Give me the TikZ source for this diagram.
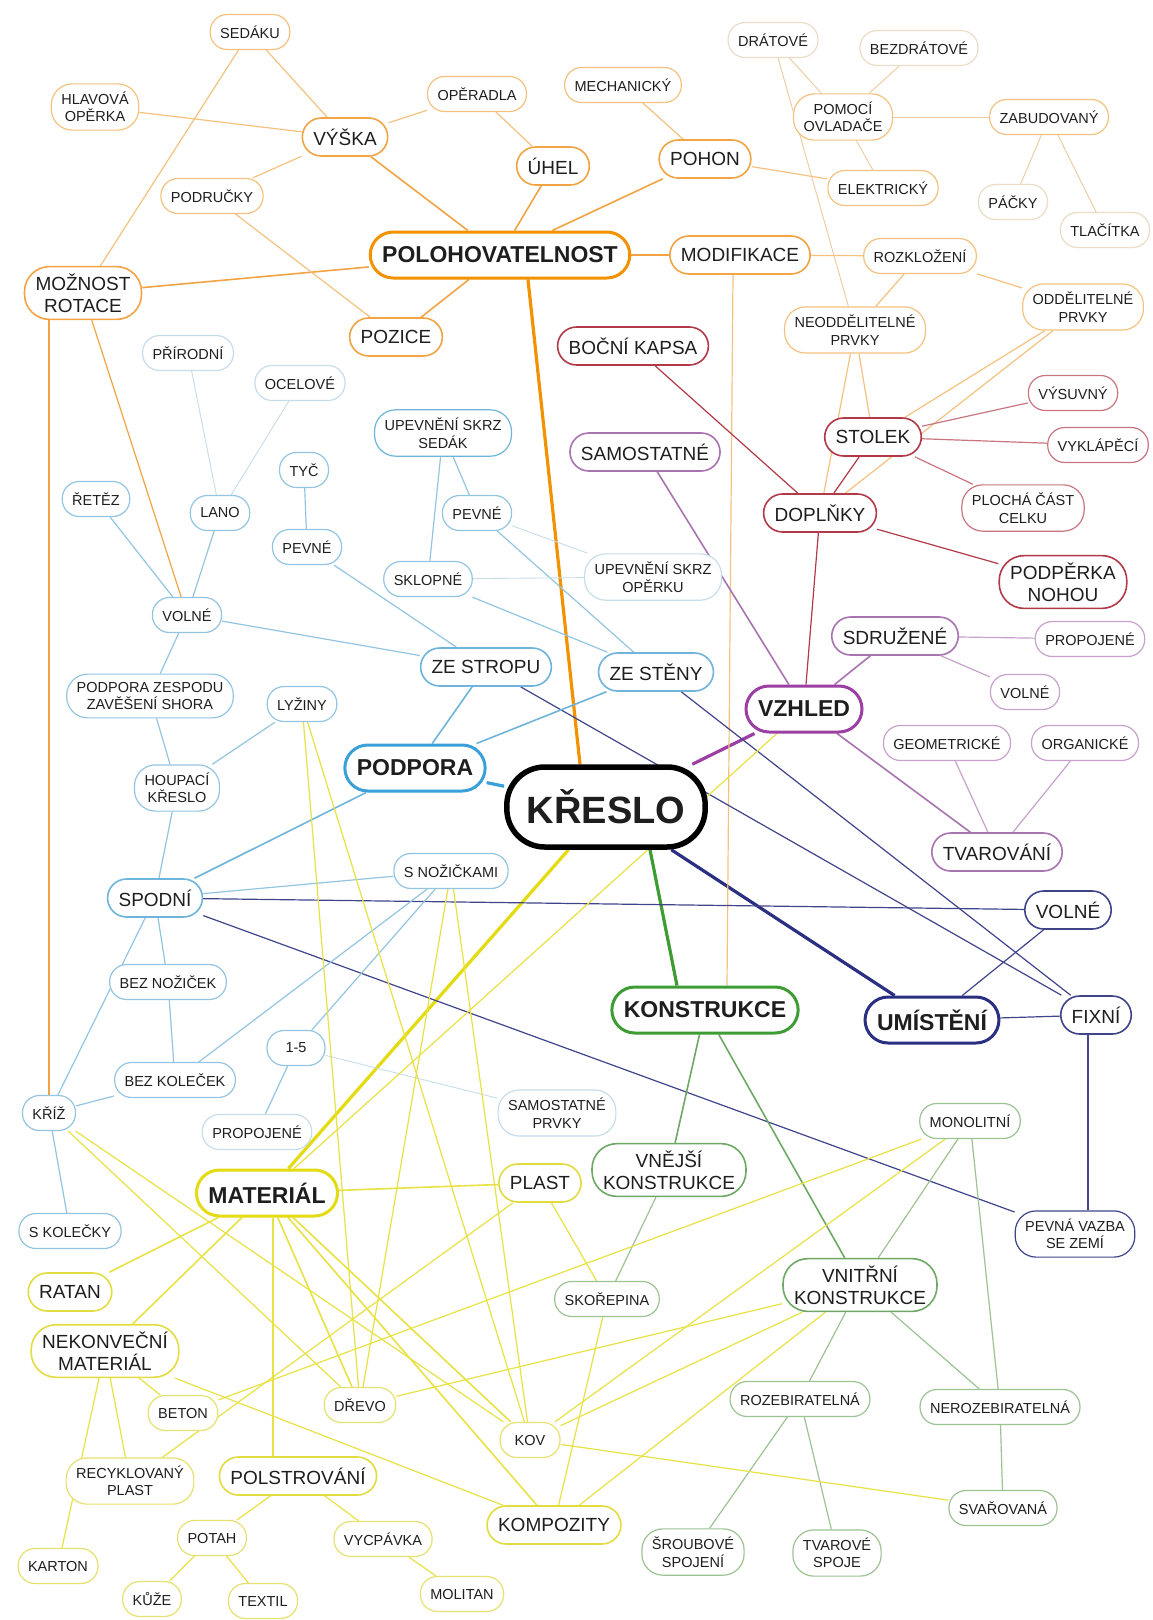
\documentclass[tikz,border=0pt]{standalone}
\usepackage{fontspec}
\setmainfont{Liberation Sans}
\usetikzlibrary{calc}
\pgfdeclarelayer{background}
\pgfsetlayers{background,main}
\definecolor{corange}{HTML}{F39200}
\definecolor{orangeM}{HTML}{F2A444}
\definecolor{orangeL}{HTML}{F4C27E}
\definecolor{orangeXL}{HTML}{EBDCC6}
\definecolor{cred}{HTML}{B23A48}
\definecolor{redL}{HTML}{C97580}
\definecolor{cpurple}{HTML}{9C3FA3}
\definecolor{purpleM}{HTML}{A873B0}
\definecolor{purpleL}{HTML}{C7A2CC}
\definecolor{cnavy}{HTML}{2B2F82}
\definecolor{navyM}{HTML}{40448A}
\definecolor{cblue}{HTML}{3AA0DA}
\definecolor{blueM}{HTML}{6FB4DA}
\definecolor{blueL}{HTML}{93C5E2}
\definecolor{blueXL}{HTML}{C8DDEA}
\definecolor{cgreen}{HTML}{3E9C34}
\definecolor{greenM}{HTML}{6EA864}
\definecolor{greenL}{HTML}{9CC392}
\definecolor{cyellow}{HTML}{E5DB12}
\definecolor{yellowM}{HTML}{E3DC40}
\definecolor{yellowL}{HTML}{E6E170}
\definecolor{yellowE}{HTML}{E8E244}
\definecolor{txt}{HTML}{1E1E1E}
\begin{document}
\begin{tikzpicture}[x=1pt,y=-1pt,
  base/.style={draw, rectangle, fill=white, align=center, text=txt},
  sm/.style={base, font=\fontsize{14.5}{17.5}\selectfont, minimum height=35pt, inner xsep=10pt, inner ysep=5pt, rounded corners=17pt, line width=1.2pt},
  sm2/.style={sm, inner ysep=8pt, rounded corners=21pt},
  md/.style={base, font=\fontsize{19}{22}\selectfont, minimum height=38pt, inner xsep=11pt, inner ysep=6pt, rounded corners=19pt, line width=1.6pt},
  md2/.style={md, inner ysep=7pt, rounded corners=25pt},
  mn/.style={base, font=\bfseries\fontsize{23}{27}\selectfont, minimum height=46pt, inner xsep=12pt, rounded corners=23pt, line width=3pt},
  thk/.style={line width=3.2pt},
  e2/.style={line width=1.6pt},
  e3/.style={line width=1.2pt},
  e4/.style={line width=0.9pt}]
\useasboundingbox (0,0) rectangle (1152,1620);

% centre
\node[base, draw=black, line width=5.5pt, rounded corners=38pt, minimum height=80pt, inner xsep=20pt, font=\bfseries\fontsize{38}{40}\selectfont] (kreslo) at (606,807) {KŘESLO};

% orange
\node[mn, draw=corange] (pol) at (500,255) {POLOHOVATELNOST};
\node[md, draw=orangeM] (vyska) at (345,137) {VÝŠKA};
\node[sm, draw=orangeL] (sedaku) at (250,32) {SEDÁKU};
\node[sm2, draw=orangeL] (hlav) at (95,107) {HLAVOVÁ\\OPĚRKA};
\node[sm, draw=orangeL] (operadla) at (477,94) {OPĚRADLA};
\node[sm, draw=orangeL] (podrucky) at (212,196) {PODRUČKY};
\node[md, draw=orangeM] (uhel) at (553,166) {ÚHEL};
\node[md, draw=orangeM] (pozice) at (396,337) {POZICE};
\node[md2, draw=orangeM] (rotace) at (83,293) {MOŽNOST\\ROTACE};
\node[sm, draw=orangeL] (mech) at (623,85) {MECHANICKÝ};
\node[md, draw=orangeM] (pohon) at (705,159) {POHON};
\node[md, draw=orangeM] (modif) at (740,255) {MODIFIKACE};
\node[sm, draw=orangeXL] (dratove) at (773,40) {DRÁTOVÉ};
\node[sm, draw=orangeXL] (bezdrat) at (919,48) {BEZDRÁTOVÉ};
\node[sm2, draw=orangeL] (pomoci) at (843,117) {POMOCÍ\\OVLADAČE};
\node[sm, draw=orangeL] (zabud) at (1049,117) {ZABUDOVANÝ};
\node[sm, draw=orangeL] (elektr) at (883,188) {ELEKTRICKÝ};
\node[sm, draw=orangeXL] (packy) at (1013,202) {PÁČKY};
\node[sm, draw=orangeXL] (tlac) at (1105,230) {TLAČÍTKA};
\node[sm, draw=orangeL] (rozkl) at (920,256) {ROZKLOŽENÍ};
\node[sm2, draw=orangeL] (oddel) at (1083,307) {ODDĚLITELNÉ\\PRVKY};
\node[sm2, draw=orangeL] (neoddel) at (855,330) {NEODDĚLITELNÉ\\PRVKY};

% red
\node[md, draw=cred] (bocni) at (633,346) {BOČNÍ KAPSA};
\node[md, draw=cred] (doplnky) at (820,513) {DOPLŇKY};
\node[md, draw=cred] (stolek) at (873,437) {STOLEK};
\node[sm, draw=redL] (vysuv) at (1073,393) {VÝSUVNÝ};
\node[sm, draw=redL] (vyklap) at (1098,445) {VYKLÁPĚCÍ};
\node[sm2, draw=redL] (plocha) at (1023,508) {PLOCHÁ ČÁST\\CELKU};
\node[md2, draw=cred] (podperka) at (1063,582) {PODPĚRKA\\NOHOU};

% purple
\node[mn, draw=cpurple] (vzhled) at (804,709) {VZHLED};
\node[md, draw=purpleM] (samost) at (645,452) {SAMOSTATNÉ};
\node[md, draw=purpleM] (sdruz) at (895,636) {SDRUŽENÉ};
\node[sm, draw=purpleL] (propR) at (1090,639) {PROPOJENÉ};
\node[sm, draw=purpleL] (volneP) at (1025,692) {VOLNÉ};
\node[sm, draw=purpleL] (geom) at (947,743) {GEOMETRICKÉ};
\node[sm, draw=purpleL] (organ) at (1085,743) {ORGANICKÉ};
\node[md, draw=purpleM] (tvar) at (997,852) {TVAROVÁNÍ};

% navy
\node[mn, draw=cnavy] (umist) at (932,1020) {UMÍSTĚNÍ};
\node[md, draw=navyM] (volneN) at (1068,910) {VOLNÉ};
\node[md, draw=navyM] (fixni) at (1096,1015) {FIXNÍ};
\node[sm2, draw=navyM] (pevna) at (1075,1234) {PEVNÁ VAZBA\\SE ZEMÍ};

% blue
\node[mn, draw=cblue] (podpora) at (415,768) {PODPORA};
\node[md, draw=blueM] (zestropu) at (486,667) {ZE STROPU};
\node[md, draw=blueM] (zesteny) at (656,672) {ZE STĚNY};
\node[sm2, draw=blueM] (upsed) at (443,433) {UPEVNĚNÍ SKRZ\\SEDÁK};
\node[sm, draw=blueL] (pevneM) at (477,513) {PEVNÉ};
\node[sm, draw=blueL] (sklop) at (428,579) {SKLOPNÉ};
\node[sm2, draw=blueXL] (upop) at (653,577) {UPEVNĚNÍ SKRZ\\OPĚRKU};
\node[sm, draw=blueL] (volneB) at (187,615) {VOLNÉ};
\node[sm, draw=blueL] (retez) at (96,499) {ŘETĚZ};
\node[sm, draw=blueL] (lano) at (220,513) {LANO};
\node[sm, draw=blueXL] (prir) at (188,353) {PŘÍRODNÍ};
\node[sm, draw=blueXL] (ocel) at (300,383) {OCELOVÉ};
\node[sm, draw=blueL] (tyc) at (304,470) {TYČ};
\node[sm, draw=blueL] (pevneL) at (307,547) {PEVNÉ};
\node[sm2, draw=blueL] (zespodu) at (150,696) {PODPORA ZESPODU\\ZAVĚŠENÍ SHORA};
\node[sm, draw=blueL] (lyziny) at (302,704) {LYŽINY};
\node[sm2, draw=blueL] (houpaci) at (177,788) {HOUPACÍ\\KŘESLO};
\node[md, draw=blueM] (spodni) at (155,898) {SPODNÍ};
\node[sm, draw=blueL] (snoz) at (451,871) {S NOŽIČKAMI};
\node[sm, draw=blueL] (beznoz) at (168,982) {BEZ NOŽIČEK};
\node[sm, draw=blueL, minimum width=58pt] (jedna) at (296,1048) {1-5};
\node[sm, draw=blueL] (bezkol) at (175,1080) {BEZ KOLEČEK};
\node[sm, draw=blueL] (kriz) at (49,1113) {KŘÍŽ};
\node[sm, draw=blueXL] (propL) at (257,1132) {PROPOJENÉ};
\node[sm2, draw=blueXL] (samprvky) at (557,1113) {SAMOSTATNÉ\\PRVKY};
\node[sm, draw=blueL] (skol) at (70,1231) {S KOLEČKY};

% green
\node[mn, draw=cgreen] (konstr) at (705,1010) {KONSTRUKCE};
\node[md2, draw=greenM] (vnejsi) at (669,1170) {VNĚJŠÍ\\KONSTRUKCE};
\node[md2, draw=greenM] (vnitrni) at (860,1285) {VNITŘNÍ\\KONSTRUKCE};
\node[sm, draw=greenL] (skor) at (607,1299) {SKOŘEPINA};
\node[sm, draw=greenL] (monol) at (970,1121) {MONOLITNÍ};
\node[sm, draw=greenL] (rozeb) at (800,1399) {ROZEBIRATELNÁ};
\node[sm, draw=greenL] (nerozeb) at (1000,1407) {NEROZEBIRATELNÁ};
\node[sm2, draw=greenL] (srou) at (693,1552) {ŠROUBOVÉ\\SPOJENÍ};
\node[sm2, draw=greenL] (tvarS) at (837,1553) {TVAROVÉ\\SPOJE};
\node[sm, draw=greenL] (svar) at (1003,1508) {SVAŘOVANÁ};

% yellow
\node[mn, draw=cyellow] (mat) at (267,1193) {MATERIÁL};
\node[md, draw=yellowM] (plast) at (540,1183) {PLAST};
\node[md, draw=yellowM] (ratan) at (70,1292) {RATAN};
\node[md2, draw=yellowM] (nekonv) at (105,1351) {NEKONVEČNÍ\\MATERIÁL};
\node[sm, draw=yellowL] (beton) at (183,1413) {BETON};
\node[sm, draw=yellowL] (drevo) at (360,1405) {DŘEVO};
\node[sm, draw=yellowL, minimum width=60pt] (kov) at (530,1440) {KOV};
\node[sm2, draw=yellowL] (recyk) at (130,1481) {RECYKLOVANÝ\\PLAST};
\node[md, draw=yellowM] (polstr) at (298,1476) {POLSTROVÁNÍ};
\node[md, draw=yellowM] (kompoz) at (554,1525) {KOMPOZITY};
\node[sm, draw=yellowL] (potah) at (212,1538) {POTAH};
\node[sm, draw=yellowL] (vycp) at (383,1539) {VYCPÁVKA};
\node[sm, draw=yellowL] (karton) at (58,1566) {KARTON};
\node[sm, draw=yellowL] (kuze) at (152,1599) {KŮŽE};
\node[sm, draw=yellowL] (textil) at (263,1601) {TEXTIL};
\node[sm, draw=yellowL] (molitan) at (462,1594) {MOLITAN};

\begin{pgfonlayer}{background}
\fill[white] (0,0) rectangle (1152,1620);
% thick main
\draw[thk, corange] ([xshift=28pt]pol.south) -- ([xshift=-26pt]kreslo.north);
\draw[thk, cblue] (kreslo) -- (podpora);
\draw[thk, cpurple] (kreslo) -- (vzhled);
\draw[thk, cgreen] ([xshift=44pt]kreslo.south) -- ([xshift=-28pt]konstr.north);
\draw[thk, cnavy] (kreslo) -- (umist);
\draw[thk, cyellow] (kreslo) -- (mat);
% orange
\foreach \a/\b in {pol/vyska, pol/uhel, pol/pohon, pol/modif, pol/rotace, pol/pozice}
  \draw[e2, orangeM] (\a) -- (\b);
\foreach \a/\b in {vyska/sedaku, vyska/hlav, vyska/operadla, vyska/podrucky, operadla/uhel, podrucky/pozice, sedaku/rotace, pohon/mech, pohon/elektr, modif/rozkl, rozkl/neoddel, rozkl/oddel, oddel/stolek, oddel/doplnky, neoddel/doplnky, neoddel/stolek}
  \draw[e3, orangeL] (\a) -- (\b);
\draw[e3, orangeM] (rotace) -- (volneB);
\draw[e3, orangeM] (rotace.south -| kriz.north) -- (kriz.north);
\draw[e3, orangeL] ([xshift=-7pt]modif.south) -- ([xshift=22pt]konstr.north);
\foreach \a/\b in {elektr/pomoci, pomoci/dratove, pomoci/bezdrat, pomoci/zabud, zabud/packy, zabud/tlac, dratove/neoddel}
  \draw[e4, orangeXL!80!orange] (\a) -- (\b);
% red
\foreach \a/\b in {vzhled/doplnky, doplnky/bocni, doplnky/stolek, doplnky/podperka}
  \draw[e3, cred] (\a) -- (\b);
\foreach \a/\b in {stolek/vysuv, stolek/vyklap, stolek/plocha}
  \draw[e3, redL] (\a) -- (\b);
% purple
\foreach \a/\b in {vzhled/samost, vzhled/sdruz, vzhled/tvar}
  \draw[e2, purpleM] (\a) -- (\b);
\foreach \a/\b in {sdruz/propR, sdruz/volneP, tvar/geom, tvar/organ}
  \draw[e3, purpleL] (\a) -- (\b);
% navy
\foreach \a/\b in {spodni/volneN, spodni/pevna, zestropu/fixni, zesteny/fixni, umist/volneN, umist/fixni}
  \draw[e3, navyM] (\a) -- (\b);
\draw[e3, navyM] ([xshift=-8pt]fixni.south) -- ([xshift=-8pt]fixni.south |- pevna.north);
% blue
\foreach \a/\b in {podpora/zestropu, podpora/zesteny, podpora/spodni}
  \draw[e2, blueM] (\a) -- (\b);
\foreach \a/\b in {zestropu/volneB, zestropu/pevneL, pevneL/tyc, volneB/lano, volneB/retez, volneB/zespodu, zespodu/houpaci, houpaci/lyziny, houpaci/spodni, zesteny/sklop, zesteny/pevneM, pevneM/upsed, sklop/upsed, spodni/snoz, spodni/beznoz, beznoz/bezkol, spodni/kriz, kriz/bezkol, kriz/skol, snoz/bezkol, snoz/jedna, jedna/propL}
  \draw[e3, blueL] (\a) -- (\b);
\foreach \a/\b in {lano/prir, lano/ocel, pevneM/upop, sklop/upop, jedna/samprvky}
  \draw[e4, blueXL] (\a) -- (\b);
% green
\foreach \a/\b in {konstr/vnejsi, konstr/vnitrni}
  \draw[e2, greenM] (\a) -- (\b);
\foreach \a/\b in {vnejsi/skor, vnitrni/rozeb, vnitrni/nerozeb, vnitrni/monol, monol/nerozeb, rozeb/srou, rozeb/tvarS, nerozeb/svar}
  \draw[e3, greenL] (\a) -- (\b);
% yellow
\foreach \a/\b in {mat/plast, mat/ratan, mat/nekonv, mat/drevo, mat/kov, mat/kompoz}
  \draw[e2, yellowE] (\a) -- (\b);
\draw[e2, yellowE] ([xshift=6pt]mat.south) -- ([xshift=6pt]mat.south |- polstr.north);
\foreach \a/\b in {vzhled/mat, nekonv/beton, nekonv/recyk, nekonv/karton, nekonv/kompoz, polstr/potah, polstr/vycp, potah/kuze, potah/textil, vycp/molitan, plast/skor, plast/recyk, skor/kompoz, lyziny/drevo, lyziny/kov, snoz/drevo, snoz/kov, kriz/kov, kriz/drevo, monol/kov, monol/beton, vnitrni/drevo, vnitrni/kov, vnitrni/kompoz, kov/svar}
  \draw[e3, yellowE] (\a) -- (\b);
\end{pgfonlayer}
\end{tikzpicture}
\end{document}
